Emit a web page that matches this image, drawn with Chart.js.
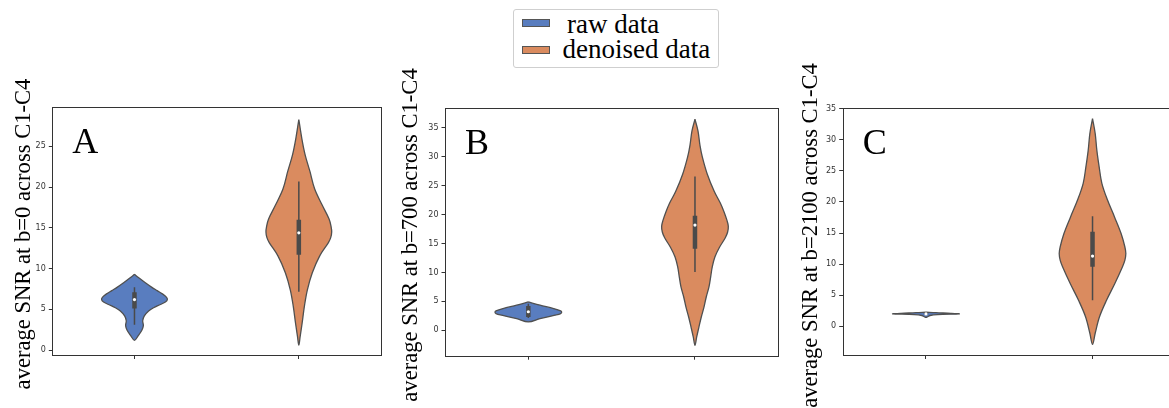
<!DOCTYPE html>
<html>
<head>
<meta charset="utf-8">
<script src="https://cdn.jsdelivr.net/npm/chart.js@4.4.1/dist/chart.umd.min.js"></script>
<style>
  html, body { margin: 0; padding: 0; background: #fff; }
  body { width: 1169px; height: 408px; overflow: hidden; position: relative; }
  canvas { position: absolute; top: 0; }
  #legend {
    position: absolute; left: 513px; top: 9px; width: 206px; height: 59px;
    border: 1px solid #cfcfcf; border-radius: 3px; box-sizing: border-box; background: #fff;
    font-family: "Liberation Serif", "Times New Roman", serif; font-size: 27px; color: #000;
  }
  #legend .patch { position: absolute; left: 8px; width: 28px; height: 8px; box-sizing: border-box; border: 1px solid #555; }
  #legend .txt { position: absolute; height: 27px; line-height: 27px; white-space: nowrap; }
</style>
</head>
<body>
<div id="legend">
  <div class="patch" style="top:9px;background:#597dbf"></div>
  <div class="txt" style="left:53px;top:1px">raw data</div>
  <div class="patch" style="top:35.5px;background:#da8b5f"></div>
  <div class="txt" style="left:48.5px;top:25.5px">denoised data</div>
</div>
<script>
const categories = ['raw data', 'denoised data'];
const panelLetters = ['A', 'B', 'C'];
const yTitles = [
  'average SNR at b=0 across C1-C4',
  'average SNR at b=700 across C1-C4',
  'average SNR at b=2100 across C1-C4'
];
const yTicks = [
  [0, 5, 10, 15, 20, 25],
  [0, 5, 10, 15, 20, 25, 30, 35],
  [0, 5, 10, 15, 20, 25, 30, 35]
];
const yLimits = [[-0.6, 29.8], [-4.4, 38.5], [-4.6, 35.15]];

// violin outlines: SNR levels from top tip to bottom tip, with relative density (1 = widest)
const rawLevels = [
  [9.3, 8.9, 8.3, 7.7, 7.3, 6.9, 6.5, 6.2, 5.9, 5.6, 5.2, 4.8, 4.2, 3.6, 3.0, 2.4, 1.8, 1.2],
  [4.9, 4.33, 3.75, 3.34, 3.1, 2.88, 2.6, 2.0, 1.44],
  [2.3, 2.2, 2.1, 2.0, 1.9, 1.75, 1.55, 1.45]
];
const rawDensity = [
  [0, 0.12, 0.32, 0.53, 0.69, 0.85, 0.97, 1, 0.94, 0.79, 0.58, 0.43, 0.3, 0.25, 0.27, 0.22, 0.12, 0],
  [0, 0.35, 0.76, 0.97, 1, 0.97, 0.8, 0.35, 0],
  [0, 0.3, 0.75, 1, 0.35, 0.12, 0.05, 0]
];
const denoisedLevels = [
  [28.3, 26, 24, 21.9, 19.8, 17.8, 16.1, 15.2, 14.5, 13.8, 13.2, 11.6, 9.5, 7.4, 5.4, 3.3, 1.65, 0.6],
  [36.5, 34.5, 32, 30, 27, 24, 22, 20.5, 19, 18, 17, 16, 14.4, 12.7, 11, 9.2, 7.5, 5.8, 4, 2.3, 0.6, -1.2, -2.6],
  [33.4, 31, 28.3, 25.6, 23, 20.3, 17.6, 14.9, 12.8, 11.7, 10.6, 9.6, 6.9, 4.2, 1.55, -1.1, -2.9]
];
const denoisedDensity = [
  [0, 0.09, 0.19, 0.34, 0.48, 0.71, 0.92, 0.98, 1, 0.97, 0.9, 0.64, 0.41, 0.26, 0.17, 0.1, 0.04, 0],
  [0, 0.09, 0.15, 0.22, 0.37, 0.58, 0.76, 0.87, 0.96, 1, 0.98, 0.91, 0.74, 0.6, 0.52, 0.47, 0.42, 0.34, 0.27, 0.19, 0.12, 0.05, 0],
  [0, 0.08, 0.13, 0.2, 0.28, 0.45, 0.66, 0.86, 0.97, 1, 0.97, 0.9, 0.67, 0.42, 0.21, 0.08, 0]
];

// inner box: [lower whisker, q1, median, q3, upper whisker]
const rawBox = [[3.1, 5.1, 6.2, 7.1, 7.7], [2.1, 2.3, 3.2, 4.2, 4.6], [1.8, 1.9, 2.0, 2.1, 2.2]];
const denoisedBox = [[7.15, 11.7, 14.4, 16.0, 20.7], [10.1, 14.1, 18.2, 19.8, 26.6], [4.2, 9.6, 11.3, 15.2, 17.7]];

const colors = ['#597dbf', '#da8b5f'];
const edgeColor = '#505050';
const innerColor = '#4a4a4a';
const halfWidth = 0.2;

// where each panel sits on the page
const panels = [
  {canvasLeft: 0,   area: {left: 52.3,  top: 107.3, right: 381,    bottom: 355},   titleX: -22.3, titleY: 234},
  {canvasLeft: 395, area: {left: 445,   top: 107.7, right: 778.3,  bottom: 355.7}, titleX: -28.3, titleY: 235},
  {canvasLeft: 790, area: {left: 842.7, top: 107.7, right: 1175.8, bottom: 355},   titleX: -26,   titleY: 235.5}
];
const canvasW = 400, canvasH = 408, yAxisW = 22, xAxisH = 6;

function violinOutline(center, levels, density) {
  const right = levels.map((y, i) => ({x: center + density[i] * halfWidth, y: y}));
  const left = levels.map((y, i) => ({x: center - density[i] * halfWidth, y: y})).reverse().slice(1);
  return right.concat(left);
}

function violinSets(center, levels, density, box, color) {
  return [
    {data: violinOutline(center, levels, density), showLine: true, fill: 'shape',
     backgroundColor: color, borderColor: edgeColor, borderWidth: 1.3, pointRadius: 0, tension: 0.35, order: 3},
    {data: [{x: center, y: box[0]}, {x: center, y: box[4]}], showLine: true,
     borderColor: innerColor, borderWidth: 1.5, pointRadius: 0, order: 2},
    {data: [{x: center, y: box[1]}, {x: center, y: box[3]}], showLine: true,
     borderColor: innerColor, borderWidth: 4.5, borderCapStyle: 'butt', pointRadius: 0, order: 1},
    {data: [{x: center, y: box[2]}], pointRadius: 1.6, pointBackgroundColor: '#fff', pointBorderWidth: 0, order: 0}
  ];
}

// frame, panel letter and rotated y title
const panelDecor = {
  id: 'panelDecor',
  afterDraw(chart, args, opts) {
    const {ctx, chartArea: a} = chart;
    ctx.save();
    ctx.strokeStyle = '#333';
    ctx.lineWidth = 1;
    ctx.strokeRect(Math.round(a.left) + 0.5, Math.round(a.top) + 0.5,
                   Math.round(a.right - a.left), Math.round(a.bottom - a.top));
    ctx.fillStyle = '#000';
    ctx.textBaseline = 'alphabetic';
    ctx.font = '36px "Liberation Serif"';
    ctx.fillText(opts.letter, a.left + 20, a.top + 46);
    ctx.translate(a.left + opts.titleX, opts.titleY);
    ctx.rotate(-Math.PI / 2);
    ctx.textAlign = 'center';
    ctx.font = '22.6px "Liberation Serif"';
    ctx.fillText(opts.title, 0, 0);
    ctx.restore();
  }
};

panels.forEach((p, k) => {
  const canvas = document.createElement('canvas');
  canvas.width = canvasW;
  canvas.height = canvasH;
  canvas.style.left = p.canvasLeft + 'px';
  document.body.appendChild(canvas);

  const datasets = []
    .concat(violinSets(0, rawLevels[k], rawDensity[k], rawBox[k], colors[0]))
    .concat(violinSets(1, denoisedLevels[k], denoisedDensity[k], denoisedBox[k], colors[1]));

  new Chart(canvas, {
    type: 'scatter',
    data: {datasets: datasets},
    options: {
      responsive: false,
      animation: false,
      devicePixelRatio: 1,
      events: [],
      layout: {padding: {
        left: p.area.left - p.canvasLeft - yAxisW,
        right: p.canvasLeft + canvasW - p.area.right,
        top: p.area.top,
        bottom: canvasH - p.area.bottom - xAxisH
      }},
      scales: {
        x: {
          type: 'linear', min: -0.5, max: 1.5,
          afterBuildTicks: s => { s.ticks = categories.map((c, i) => ({value: i})); },
          ticks: {display: false},
          grid: {drawOnChartArea: false, drawTicks: true, tickLength: 4, color: '#333'},
          border: {display: false},
          afterFit: s => { s.height = xAxisH; }
        },
        y: {
          min: yLimits[k][0], max: yLimits[k][1],
          afterBuildTicks: s => { s.ticks = yTicks[k].map(v => ({value: v})); },
          ticks: {font: {family: 'DejaVu Sans', size: 8}, color: '#333', padding: 3},
          grid: {drawOnChartArea: false, drawTicks: true, tickLength: 3.5, color: '#333'},
          border: {display: false},
          afterFit: s => { s.width = yAxisW; }
        }
      },
      plugins: {
        legend: {display: false},
        tooltip: {enabled: false},
        panelDecor: {letter: panelLetters[k], title: yTitles[k], titleX: p.titleX, titleY: p.titleY}
      }
    },
    plugins: [panelDecor]
  });
});
</script>
</body>
</html>
